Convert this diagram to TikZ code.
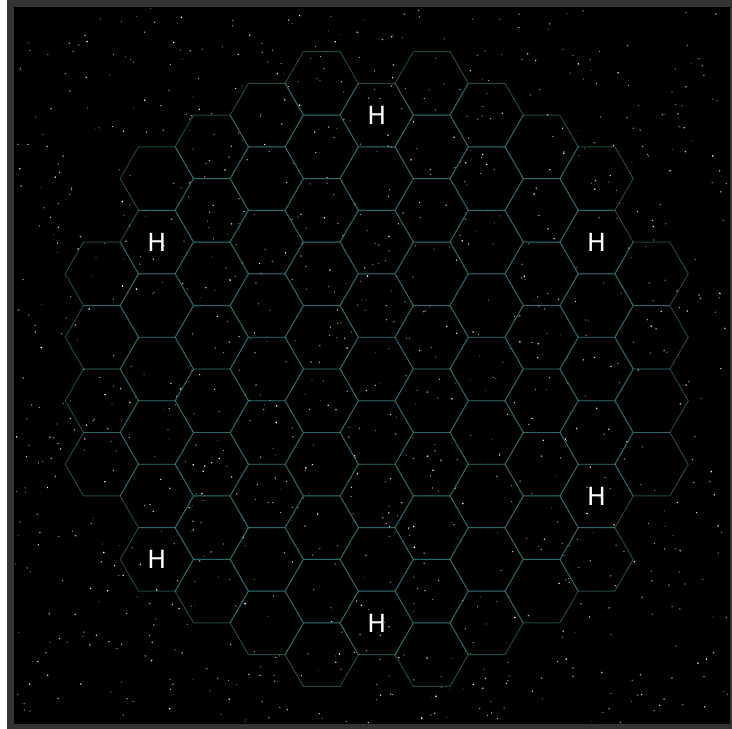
\documentclass[tikz,border=0pt]{standalone}
\usepackage{fontspec}
\newfontfamily\hfont{DejaVu Sans}
\definecolor{framegray}{RGB}{52,52,52}
\definecolor{hexcol}{RGB}{55,130,130}
\begin{document}
\begin{tikzpicture}[x=1pt,y=-1pt,
  hexcell/.style={draw=hexcol,draw opacity=0.55,line width=0.95pt,line join=miter},
  hlabel/.style={text=white,font=\hfont\fontsize{25}{25}\selectfont,inner sep=0pt}]
\useasboundingbox (0,0) rectangle (732,729);
\fill[white] (0,0) rectangle (7,729);
\fill[framegray] (7,0) rectangle (732,729);
\fill[black] (14,7) rectangle (730,724);
% stars
\pgfmathsetseed{7}
\foreach \i in {1,...,1100}{
  \pgfmathsetmacro\sx{15+714*rnd}
  \pgfmathsetmacro\sy{8+715*rnd}
  \pgfmathsetmacro\so{0.35+0.65*rnd}
  \pgfmathsetmacro\sr{0.45+0.5*rnd}
  \fill[white,opacity=\so] (\sx,\sy) circle[radius=\sr pt];
}
% hex cells
\foreach \c/\n in {-5/4,-4/7,-3/8,-2/9,-1/10,0/9,1/10,2/9,3/8,4/7,5/4}{
  \pgfmathtruncatemacro\last{\n-1}
  \foreach \j in {0,...,\last}{
    \pgfmathsetmacro\hx{376.7+\c*54.97}
    \pgfmathsetmacro\hy{369+(\j-(\n-1)/2)*63.48}
    \draw[hexcell] (\hx+36.65,\hy) -- (\hx+18.325,\hy+31.74) -- (\hx-18.325,\hy+31.74)
      -- (\hx-36.65,\hy) -- (\hx-18.325,\hy-31.74) -- (\hx+18.325,\hy-31.74) -- cycle;
  }
}
% labels
\node[hlabel] (h1) at (376.7,115) {H};
\node[hlabel] (h2) at (376.7,623) {H};
\node[hlabel] (h3) at (156.8,242) {H};
\node[hlabel] (h4) at (156.8,559) {H};
\node[hlabel] (h5) at (596.6,242) {H};
\node[hlabel] (h6) at (596.6,496) {H};
\end{tikzpicture}
\end{document}
